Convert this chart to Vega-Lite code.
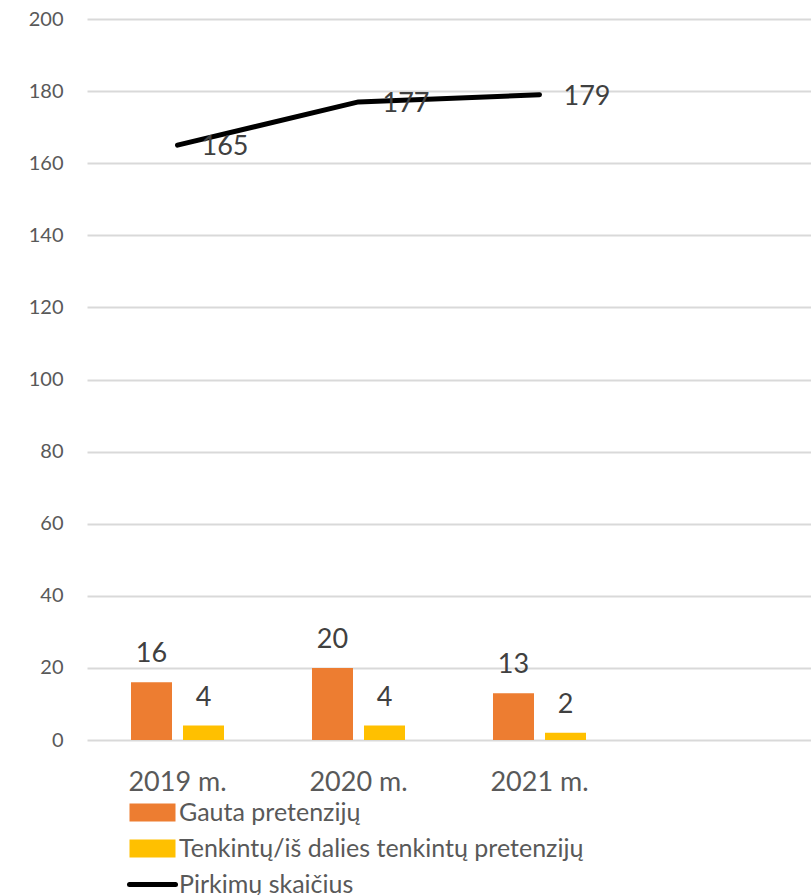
{
  "$schema": "https://vega.github.io/schema/vega-lite/v6.json",
  "width": 724,
  "height": 721,
  "autosize": {"type": "none"},
  "padding": {"left": 87, "top": 19, "right": 0, "bottom": 155},
  "background": "white",
  "config": {"view": {"stroke": null}, "font": "Lato"},
  "data": {
    "values": [
      {"year": "2019 m.", "series": "Gauta pretenzijų", "value": 16},
      {"year": "2020 m.", "series": "Gauta pretenzijų", "value": 20},
      {"year": "2021 m.", "series": "Gauta pretenzijų", "value": 13},
      {"year": "2019 m.", "series": "Tenkintų/iš dalies tenkintų pretenzijų", "value": 4},
      {"year": "2020 m.", "series": "Tenkintų/iš dalies tenkintų pretenzijų", "value": 4},
      {"year": "2021 m.", "series": "Tenkintų/iš dalies tenkintų pretenzijų", "value": 2},
      {"year": "2019 m.", "series": "Pirkimų skaičius", "value": 165},
      {"year": "2020 m.", "series": "Pirkimų skaičius", "value": 177},
      {"year": "2021 m.", "series": "Pirkimų skaičius", "value": 179}
    ]
  },
  "encoding": {
    "x": {
      "field": "year",
      "type": "nominal",
      "scale": {"domain": ["2019 m.", "2020 m.", "2021 m.", ""], "paddingInner": 0, "paddingOuter": 0},
      "axis": {
        "title": null, "grid": false, "domain": false, "ticks": false,
        "labelAngle": 0, "labelFontSize": 27, "labelColor": "#595959",
        "labelPadding": 29, "labelFont": "Lato"
      }
    },
    "y": {
      "field": "value",
      "type": "quantitative",
      "scale": {"domain": [0, 200], "nice": false},
      "axis": {
        "title": null, "domain": false, "ticks": false,
        "values": [0, 20, 40, 60, 80, 100, 120, 140, 160, 180, 200],
        "labelFontSize": 20, "labelColor": "#595959", "labelPadding": 24,
        "gridColor": "#D9D9D9", "gridWidth": 2, "labelFont": "Lato"
      }
    }
  },
  "layer": [
    {
      "transform": [{"filter": "datum.series !== 'Pirkimų skaičius'"}],
      "mark": {"type": "bar"},
      "encoding": {
        "xOffset": {
          "field": "series", "type": "nominal",
          "scale": {"domain": ["Gauta pretenzijų", "Tenkintų/iš dalies tenkintų pretenzijų"], "paddingInner": 0.2115, "paddingOuter": 0.846}
        },
        "color": {
          "field": "series", "type": "nominal",
          "scale": {
            "domain": ["Gauta pretenzijų", "Tenkintų/iš dalies tenkintų pretenzijų", "Pirkimų skaičius"],
            "range": ["#ED7D31", "#FFC000", "#000000"]
          },
          "legend": {
            "title": null, "orient": "none", "legendX": 53, "legendY": 781,
            "direction": "vertical", "padding": 0,
            "labelFontSize": 25, "labelColor": "#595959", "labelFont": "Lato",
            "labelOffset": 14, "labelLimit": 700,
            "symbolType": "M-1,-0.39H1V0.39H-1Z", "symbolSize": 2116,
            "rowPadding": 10,
            "encode": {
              "symbols": {
                "update": {
                  "shape": {"signal": "datum.value === 'Pirkimų skaičius' ? 'M-1,0H1' : 'M-1,-0.39H1V0.39H-1Z'"},
                  "size": {"value": 2116},
                  "fill": {"signal": "datum.value === 'Pirkimų skaičius' ? 'transparent' : scale('color', datum.value)"},
                  "stroke": {"signal": "datum.value === 'Pirkimų skaičius' ? '#000000' : 'transparent'"},
                  "strokeWidth": {"signal": "datum.value === 'Pirkimų skaičius' ? 5 : 0"},
                  "strokeCap": {"value": "round"},
                  "opacity": {"value": 1}
                }
              }
            }
          }
        }
      }
    },
    {
      "transform": [{"filter": "datum.series !== 'Pirkimų skaičius'"}],
      "mark": {"type": "text", "align": "center", "baseline": "alphabetic", "dy": -20, "fontSize": 27, "color": "#404040", "font": "Lato"},
      "encoding": {
        "xOffset": {"field": "series", "type": "nominal"},
        "text": {"field": "value", "type": "quantitative"}
      }
    },
    {
      "transform": [{"filter": "datum.series === 'Pirkimų skaičius'"}],
      "mark": {"type": "line", "strokeWidth": 5, "strokeCap": "round", "strokeJoin": "round"},
      "encoding": {
        "color": {"field": "series", "type": "nominal", "legend": null}
      }
    },
    {
      "transform": [{"filter": "datum.series === 'Pirkimų skaičius'"}],
      "mark": {"type": "text", "align": "left", "baseline": "middle", "dx": 24, "dy": 2, "fontSize": 27, "color": "#404040", "font": "Lato"},
      "encoding": {
        "text": {"field": "value", "type": "quantitative"}
      }
    }
  ]
}
